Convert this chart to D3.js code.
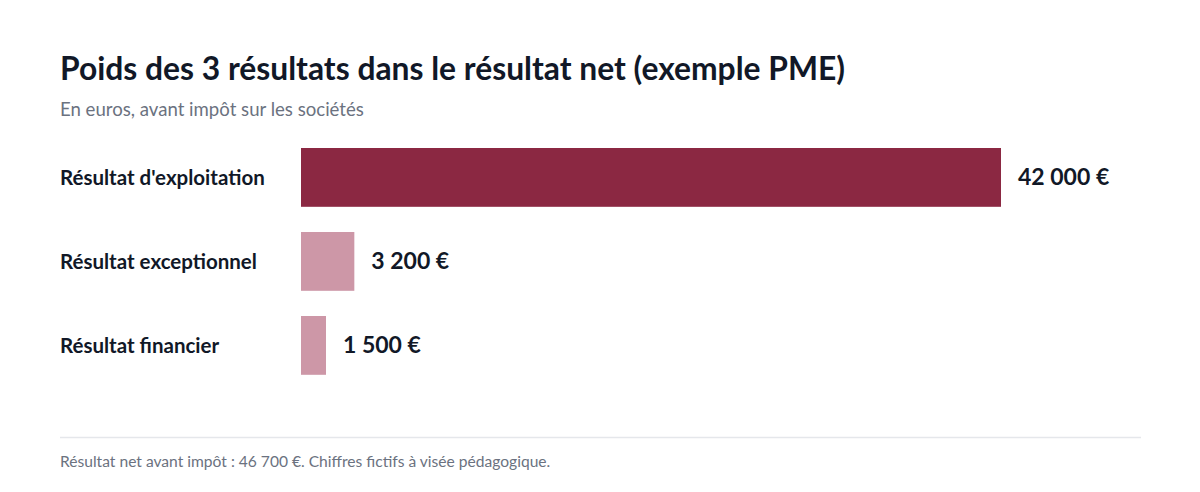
<!DOCTYPE html>
<html>
<head>
<meta charset="utf-8">
<script src="https://d3js.org/d3.v7.min.js"></script>
<style>
  body { margin: 0; background: #fff; }
  svg { display: block; font-family: Lato, "Noto Sans", sans-serif; }
</style>
</head>
<body>
<svg id="chart" width="1200" height="492"></svg>
<script>
const categories = ["Résultat d'exploitation", "Résultat exceptionnel", "Résultat financier"]
const values = [42000, 3200, 1500]
const valueLabels = ["42 000 €", "3 200 €", "1 500 €"]
const barColors = ["#8b2842", "#cd97a7", "#cd97a7"]

const svg = d3.select("#chart")

svg.append("text")
    .attr("x", 60).attr("y", 80)
    .attr("font-size", 31.8).attr("font-weight", 700)
    .attr("fill", "#111827")
    .text("Poids des 3 résultats dans le résultat net (exemple PME)")

svg.append("text")
    .attr("x", 60).attr("y", 116)
    .attr("font-size", 18.6)
    .attr("fill", "#6b7280")
    .text("En euros, avant impôt sur les sociétés")

const x = d3.scaleLinear().domain([0, 42000]).range([301, 1001])
const y = d3.scaleBand().domain(categories).range([135.4, 387.4])
    .paddingInner(0.3).paddingOuter(0.15)

svg.selectAll("rect.bar")
    .data(categories)
    .join("rect")
    .attr("class", "bar")
    .attr("x", x(0))
    .attr("y", d => y(d))
    .attr("width", (d, i) => x(values[i]) - x(0))
    .attr("height", y.bandwidth())
    .attr("fill", (d, i) => barColors[i])

svg.selectAll("text.cat")
    .data(categories)
    .join("text")
    .attr("class", "cat")
    .attr("x", 60)
    .attr("y", d => y(d) + y.bandwidth() / 2)
    .attr("dy", "0.35em")
    .attr("font-size", 20.5).attr("font-weight", 700)
    .attr("fill", "#111827")
    .text(d => d)

svg.selectAll("text.val")
    .data(categories)
    .join("text")
    .attr("class", "val")
    .attr("x", (d, i) => x(values[i]) + 17)
    .attr("y", d => y(d) + y.bandwidth() / 2)
    .attr("dy", "0.35em")
    .attr("font-size", 23).attr("font-weight", 700)
    .attr("fill", "#111827")
    .text((d, i) => valueLabels[i])

svg.append("line")
    .attr("x1", 60).attr("x2", 1141)
    .attr("y1", 437.5).attr("y2", 437.5)
    .attr("stroke", "#e5e7eb").attr("stroke-width", 1.5)

svg.append("text")
    .attr("x", 60).attr("y", 467)
    .attr("font-size", 15.6)
    .attr("fill", "#6b7280")
    .text("Résultat net avant impôt : 46 700 €. Chiffres fictifs à visée pédagogique.")
</script>
</body>
</html>
